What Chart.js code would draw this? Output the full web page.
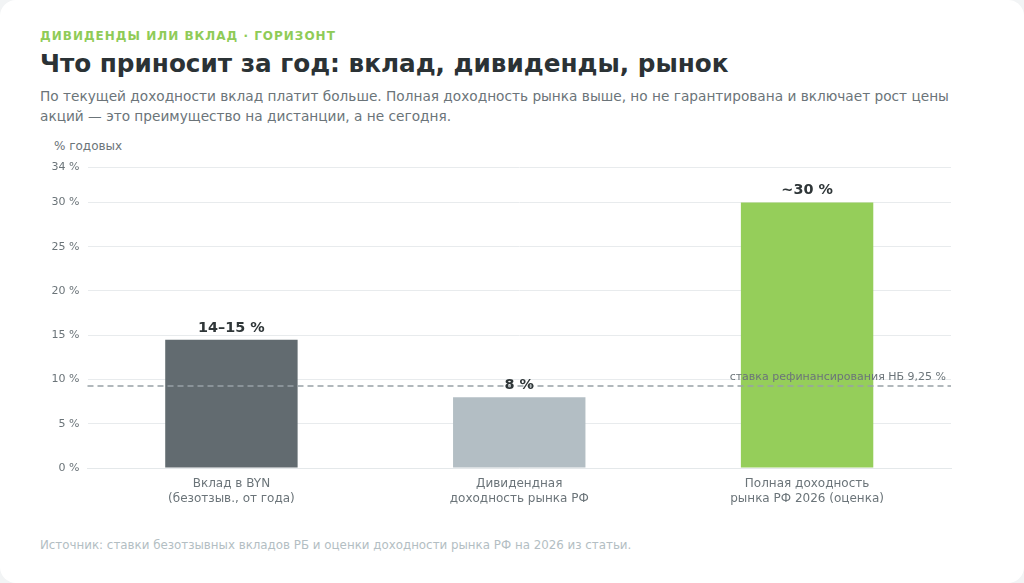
<!DOCTYPE html>
<html lang="ru">
<head>
<meta charset="utf-8">
<script src="https://cdn.jsdelivr.net/npm/chart.js@4.4.1/dist/chart.umd.min.js"></script>
<style>
  html,body{margin:0;padding:0;background:#f2f4f5;}
  body{width:1024px;height:583px;overflow:hidden;font-family:"DejaVu Sans",sans-serif;}
  .card{position:absolute;left:0;top:0;width:1024px;height:583px;background:#fff;border-radius:16px;}
  .kicker{position:absolute;left:40px;top:29px;font-size:12px;font-weight:bold;letter-spacing:1px;color:#8fcb57;}
  .title{position:absolute;left:40px;top:49px;font-size:24.7px;font-weight:bold;color:#2b3235;}
  .sub{position:absolute;left:40px;top:86px;width:920px;font-size:13.7px;line-height:20px;color:#6b7479;}
  .unit{position:absolute;left:54px;top:139px;font-size:12px;color:#6b7479;}
  .src{position:absolute;left:40px;top:538px;font-size:11.85px;color:#b3bec3;}
  .wrap{position:absolute;left:40px;top:150px;width:920px;height:360px;}
</style>
</head>
<body>
<div class="card"></div>
<div class="kicker">ДИВИДЕНДЫ ИЛИ ВКЛАД · ГОРИЗОНТ</div>
<div class="title">Что приносит за год: вклад, дивиденды, рынок</div>
<div class="sub">По текущей доходности вклад платит больше. Полная доходность рынка выше, но не гарантирована и включает рост цены акций — это преимущество на дистанции, а не сегодня.</div>
<div class="unit">% годовых</div>
<div class="src">Источник: ставки безотзывных вкладов РБ и оценки доходности рынка РФ на 2026 из статьи.</div>
<div class="wrap"><canvas id="c"></canvas></div>
<script>
const categories = [
  ["Вклад в BYN", "(безотзыв., от года)"],
  ["Дивидендная", "доходность рынка РФ"],
  ["Полная доходность", "рынка РФ 2026 (оценка)"]
];
const values = [14.5, 8, 30];
const valueLabels = ["14–15 %", "8 %", "~30 %"];
const barColors = ["#626b70", "#b3bec4", "#95ce5a"];
const yTicks = [0, 5, 10, 15, 20, 25, 30, 34];
const refRate = 9.25;
const refLabel = "ставка рефинансирования НБ 9,25 %";

const overlay = {
  id: 'overlay',
  afterDatasetsDraw(chart) {
    const ctx = chart.ctx;
    const y = chart.scales.y;
    const area = chart.chartArea;
    const py = y.getPixelForValue(refRate);
    ctx.save();
    ctx.strokeStyle = '#98a1a6';
    ctx.lineWidth = 1.5;
    ctx.setLineDash([6, 4]);
    ctx.beginPath();
    ctx.moveTo(area.left, py);
    ctx.lineTo(area.right, py);
    ctx.stroke();
    ctx.setLineDash([]);
    ctx.fillStyle = '#6b7479';
    ctx.font = '11px "DejaVu Sans"';
    ctx.textAlign = 'right';
    ctx.textBaseline = 'alphabetic';
    ctx.fillText(refLabel, area.right - 5, py - 6);
    const meta = chart.getDatasetMeta(0);
    ctx.fillStyle = '#2f3638';
    ctx.font = 'bold 14.4px "DejaVu Sans"';
    ctx.textAlign = 'center';
    meta.data.forEach((bar, i) => {
      ctx.fillText(valueLabels[i], bar.x, bar.y - 8);
    });
    ctx.restore();
  }
};

new Chart(document.getElementById('c'), {
  type: 'bar',
  data: {
    labels: categories,
    datasets: [{
      data: values,
      backgroundColor: barColors,
      borderWidth: 0,
      categoryPercentage: 1,
      barPercentage: 0.46
    }]
  },
  options: {
    responsive: true,
    maintainAspectRatio: false,
    animation: false,
    layout: { padding: { top: 17, right: 9, left: 0, bottom: 0 } },
    plugins: { legend: { display: false }, tooltip: { enabled: false } },
    scales: {
      x: {
        grid: { display: false, drawTicks: false },
        border: { display: true, color: '#e4e8ea', width: 1 },
        ticks: { color: '#6b7479', font: { family: 'DejaVu Sans', size: 12, lineHeight: 1.2 }, padding: 9, maxRotation: 0 },
        afterFit(s) { s.height = 42; }
      },
      y: {
        min: 0, max: 34,
        afterBuildTicks(s) { s.ticks = yTicks.map(v => ({ value: v })); },
        grid: { color: '#e8ebed', drawTicks: false, lineWidth: 1 },
        border: { display: false },
        ticks: {
          color: '#6b7479', font: { family: 'DejaVu Sans', size: 11 }, padding: 8,
          callback: v => v + ' %'
        },
        afterFit(s) { s.width = 47.5; }
      }
    }
  },
  plugins: [overlay]
});
</script>
</body>
</html>
